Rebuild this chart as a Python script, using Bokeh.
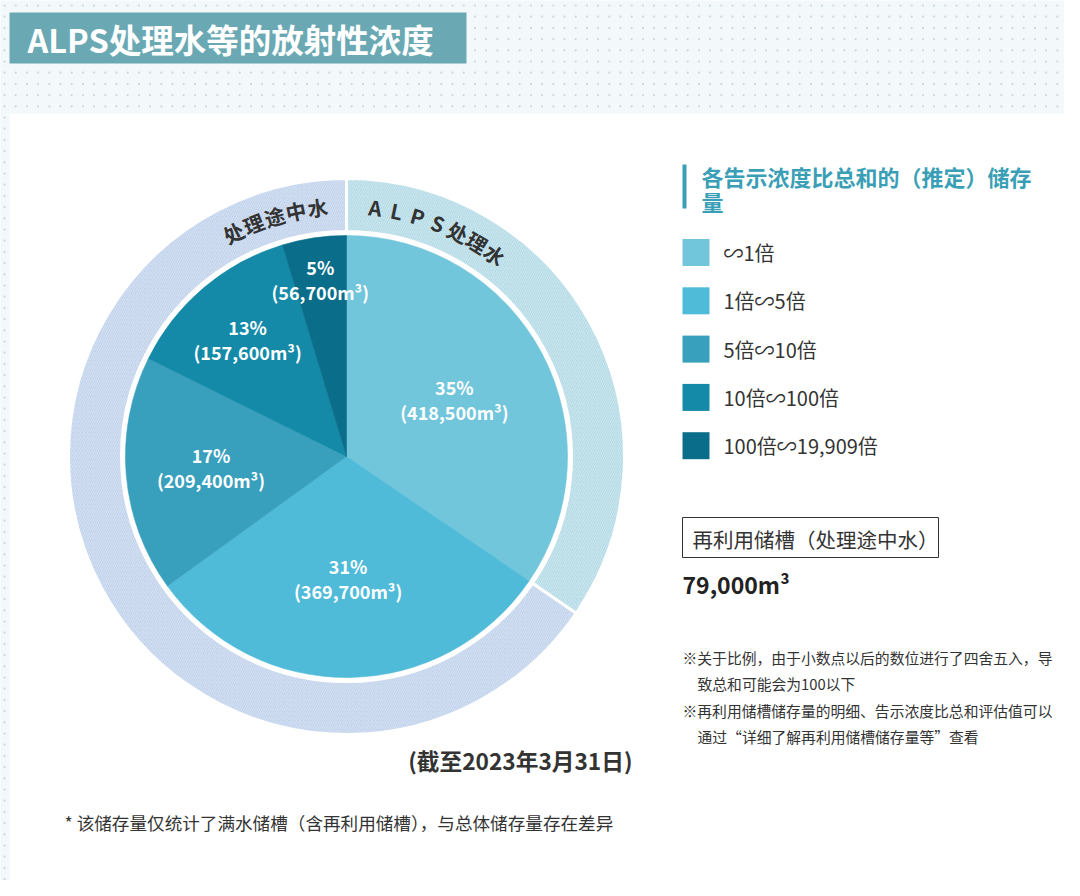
import numpy as np
from bokeh.plotting import figure
from bokeh.models import Range1d
from bokeh.core.properties import value
from bokeh.embed import file_html
from bokeh.resources import INLINE

# ---------------- data ----------------
categories = ["∽1倍", "1倍∽5倍", "5倍∽10倍", "10倍∽100倍", "100倍∽19,909倍"]
volumes = [418500, 369700, 209400, 157600, 56700]
percents = [35, 31, 17, 13, 5]
ring_names = ["ALPS处理水", "处理途中水"]
ring_members = [1, 4]          # how many inner categories belong to each ring segment
reuse_label = "再利用储槽（处理途中水）"
reuse_volume = "79,000m³"
title = "ALPS处理水等的放射性浓度"
legend_title = ["各告示浓度比总和的（推定）储存", "量"]
date_note = "(截至2023年3月31日)"
notes = [
    "※关于比例，由于小数点以后的数位进行了四舍五入，导",
    "致总和可能会为100以下",
    "※再利用储槽储存量的明细、告示浓度比总和评估值可以",
    "通过“详细了解再利用储槽储存量等”查看",
]
footnote = "* 该储存量仅统计了满水储槽（含再利用储槽），与总体储存量存在差异"

# ---------------- styles ----------------
colors = ["#72c6dc", "#4fbbd8", "#38a0bc", "#148aa8", "#0a6e8a"]
ring_colors = ["#aed8e4", "#bccfea"]
FONT = value("Noto Sans CJK SC")
DARK = "#333333"

W, H = 1064, 880
OFF = 0
def X(rx):
    return np.asarray(rx, dtype=float) - OFF
def Y(ry):
    return (H + OFF) - np.asarray(ry, dtype=float)

p = figure(width=W, height=H, x_range=Range1d(0, W), y_range=Range1d(0, H),
           output_backend="svg", toolbar_location=None, min_border=0,
           x_axis_location=None, y_axis_location=None,
           background_fill_color="#f3f8fb", border_fill_color="#f3f8fb")
p.grid.visible = False
p.outline_line_color = None

# dotted background
gx, gy = np.meshgrid(np.arange(4, 1081, 11.2), np.arange(5, 896, 11.2))
p.scatter(X(gx.ravel()), Y(gy.ravel()), size=2.2, color="#cbd6de", line_color=None)

# white panel & title box
p.quad(left=X(9), right=W, bottom=0, top=Y(113), fill_color="white", line_color=None)
p.quad(left=X(9), right=X(466), top=Y(12), bottom=Y(63), fill_color="#6aa9b4", line_color=None)
p.text(x=[X(27)], y=[Y(38)], text=[title], text_font=FONT, text_font_style="bold",
       text_font_size="32.5px", text_color="white", text_align="left", text_baseline="middle")

# ---------------- pie ----------------
cx, cy = float(X(346)), float(Y(456))
vol = np.array(volumes, dtype=float)
cum = np.concatenate([[0], np.cumsum(vol / vol.sum())])
start = np.pi / 2 - 2 * np.pi * cum[:-1]
end = np.pi / 2 - 2 * np.pi * cum[1:]
p.wedge(x=cx, y=cy, radius=221, start_angle=start, end_angle=end, direction="clock",
        fill_color=colors, line_color=colors, line_width=0.6)

# outer ring
idx = np.concatenate([[0], np.cumsum(ring_members)])
rcum = cum[idx]
p.annular_wedge(x=cx, y=cy, inner_radius=225, outer_radius=278,
                start_angle=np.pi / 2 - 2 * np.pi * rcum[:-1],
                end_angle=np.pi / 2 - 2 * np.pi * rcum[1:], direction="clock",
                fill_color=ring_colors, line_color="white", line_width=3,
                hatch_pattern="/", hatch_color="white", hatch_alpha=0.45,
                hatch_scale=4.5, hatch_weight=1)

# slice labels
mid = np.pi / 2 - np.pi * (cum[:-1] + cum[1:])
label_r = np.array([122, 122, 136, 153, 179])
lx = cx + label_r * np.cos(mid)
ly = cy + label_r * np.sin(mid)
p.text(x=lx, y=ly + 12.5, text=[f"{v}%" for v in percents], text_font=FONT,
       text_font_style="bold", text_font_size="18px", text_color="white",
       text_align="center", text_baseline="middle")
p.text(x=lx, y=ly - 12.5, text=[f"({v:,}m³)" for v in volumes], text_font=FONT,
       text_font_style="bold", text_font_size="18px", text_color="white",
       text_align="center", text_baseline="middle")

# curved ring labels
def arc_text(chars, theta0, step, r=251):
    th = np.radians(theta0 - step * np.arange(len(chars)))
    p.text(x=cx + r * np.cos(th), y=cy + r * np.sin(th), text=chars,
           angle=th - np.pi / 2, text_font=FONT, text_font_style="bold",
           text_font_size="20.5px", text_color=DARK, text_align="center",
           text_baseline="middle")

arc_text(list(ring_names[0]), 83.4, 4.95)
arc_text(list(ring_names[1]), 116.8, 5.05)

# ---------------- legend ----------------
p.quad(left=X(682), right=X(686), top=Y(164), bottom=Y(208), fill_color="#3a9fb6", line_color=None)
p.text(x=[X(701), X(701)], y=[Y(175), Y(200)], text=legend_title, text_font=FONT,
       text_font_style="bold", text_font_size="22px", text_color="#3a9fb6",
       text_align="left", text_baseline="middle")
ly_leg = Y(252 + 48.3 * np.arange(len(categories)))
p.rect(x=X(695.5), y=ly_leg, width=27, height=27, fill_color=colors, line_color=None)
p.text(x=X(723), y=ly_leg, text=categories, text_font=FONT, text_font_size="20px",
       text_color=DARK, text_align="left", text_baseline="middle")

# reuse tank box
p.rect(x=X(810), y=Y(537), width=256, height=40, fill_color="white", line_color=DARK, line_width=1)
p.text(x=[X(692)], y=[Y(538)], text=[reuse_label], text_font=FONT, text_font_size="20.5px",
       text_color=DARK, text_align="left", text_baseline="middle")
p.text(x=[X(682)], y=[Y(583)], text=[reuse_volume], text_font=FONT, text_font_style="bold",
       text_font_size="23px", text_color="#222222", text_align="left", text_baseline="middle")

# notes
p.text(x=X([682, 697, 682, 697]), y=Y([657, 683, 710, 736]), text=notes, text_font=FONT,
       text_font_size="14.8px", text_color=DARK, text_align="left", text_baseline="middle")

p.text(x=[X(632)], y=[Y(760)], text=[date_note], text_font=FONT, text_font_style="bold",
       text_font_size="22.7px", text_color=DARK, text_align="right", text_baseline="middle")
p.text(x=[X(64)], y=[Y(822)], text=[footnote], text_font=FONT, text_font_size="17.6px",
       text_color=DARK, text_align="left", text_baseline="middle")

open("out.html", "w").write(file_html(p, INLINE))
